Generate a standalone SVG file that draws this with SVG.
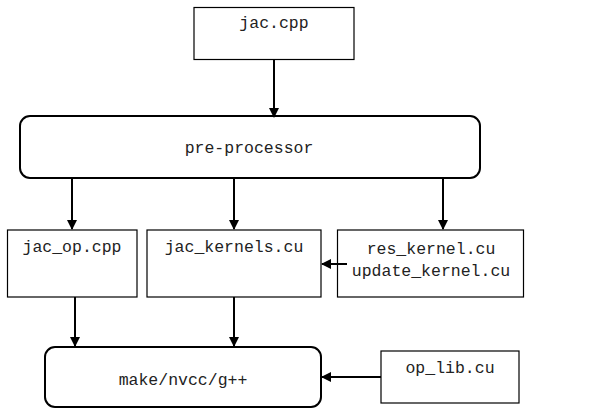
<svg xmlns="http://www.w3.org/2000/svg" width="608" height="408" viewBox="0 0 608 408">
<style>
.box{fill:#fff;stroke:#000;stroke-width:1.2}
.rbox{fill:#fff;stroke:#000;stroke-width:2}
.t{font-family:"Liberation Mono","Courier New",monospace;font-size:16.5px;fill:#222;text-anchor:middle}
.c{stroke:#000;stroke-width:2;fill:none;marker-end:url(#ah)}
</style>
<defs>
<marker id="ah" markerWidth="10" markerHeight="10" refX="9" refY="5" orient="auto" markerUnits="userSpaceOnUse">
<path d="M0,0 L10,5 L0,10 Z" fill="#000"/>
</marker>
</defs>
<rect width="608" height="408" fill="#fff"/>
<g id="jac_cpp">
<rect class="box" x="194" y="7.5" width="160" height="52"/>
<text class="t" x="274" y="28">jac.cpp</text>
</g>
<g id="pre_processor">
<rect class="rbox" x="20" y="116" width="460" height="62" rx="10"/>
<text class="t" x="249" y="153">pre-processor</text>
</g>
<g id="jac_op_cpp">
<rect class="box" x="7.5" y="230" width="129.5" height="67"/>
<text class="t" x="72" y="252">jac_op.cpp</text>
</g>
<g id="jac_kernels_cu">
<rect class="box" x="147" y="230" width="174" height="67"/>
<text class="t" x="234" y="252">jac_kernels.cu</text>
</g>
<g id="res_kernel_cu">
<rect class="box" x="337.5" y="230" width="186" height="67"/>
<text class="t" x="431" y="254">res_kernel.cu</text>
<text class="t" x="431" y="276">update_kernel.cu</text>
</g>
<g id="make">
<rect class="rbox" x="45" y="347" width="276" height="60" rx="10"/>
<text class="t" x="183" y="385">make/nvcc/g++</text>
</g>
<g id="op_lib_cu">
<rect class="box" x="381" y="351" width="138" height="52"/>
<text class="t" x="450" y="373">op_lib.cu</text>
</g>
<g id="connectors">
<line class="c" x1="274" y1="59" x2="274" y2="117"/>
<line class="c" x1="72" y1="178" x2="72" y2="229"/>
<line class="c" x1="234" y1="178" x2="234" y2="229"/>
<line class="c" x1="443" y1="178" x2="443" y2="229"/>
<line class="c" x1="347" y1="264" x2="322" y2="264"/>
<line class="c" x1="75" y1="297" x2="75" y2="346"/>
<line class="c" x1="234" y1="297" x2="234" y2="346"/>
<line class="c" x1="381" y1="377" x2="322" y2="377"/>
</g>
</svg>
